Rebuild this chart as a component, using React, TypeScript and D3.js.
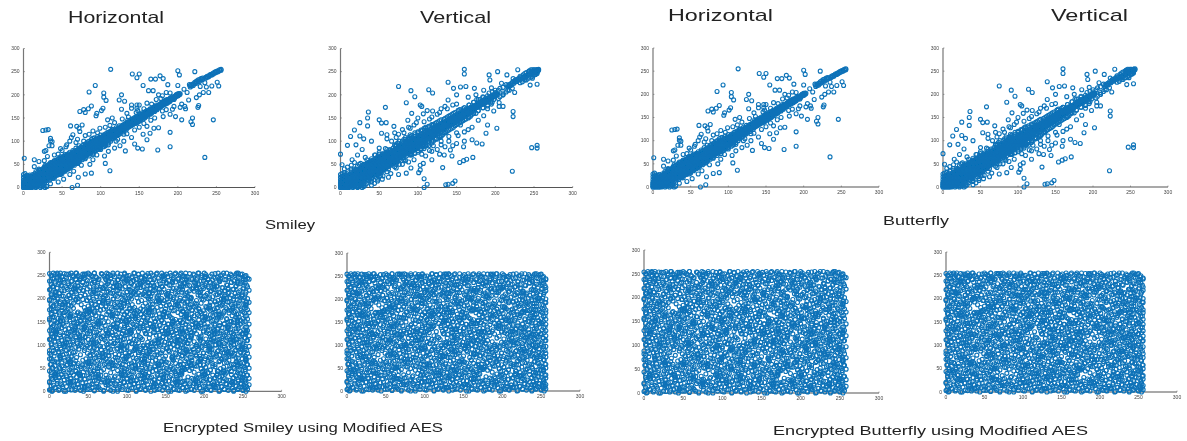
import React from "react";
import * as d3 from "d3";

// Each row: x value followed by the y values read at that x.
const bandColumns: number[][] = [
  [0,0,3,7,11,16,22,28],[2,1,5,9,13,18,24,30],[4,0,4,8,12,17,21,26],[6,2,6,10,14,19,25],[8,0,3,7,11,15,20,27],
  [10,1,5,9,13,17,22],[12,2,6,10,14,18,24],[14,4,8,12,16,20,26],[16,3,8,13,17,21,25],[18,6,10,14,19,23,28],
  [20,7,12,16,20,25,30,38],[22,9,14,18,22,27,33],[24,8,12,17,22,26,31,37],[26,13,18,22,27,32,38],[28,12,17,21,26,31,36,44],
  [30,15,20,25,30,35,40,47],[32,18,23,28,33,38,44],[34,16,22,27,32,37,42,50],[36,20,25,30,35,40,46,53],[38,22,27,32,37,42,48],
  [40,20,26,31,36,41,46,52,58],[42,26,31,36,41,46,51,57],[44,27,32,37,42,47,53,60],[46,30,35,40,45,50,55,62],[48,28,34,39,44,49,54,60,66],
  [50,33,38,43,48,53,58,64],[52,36,41,46,51,56,61,68],[54,35,40,45,50,55,60,66,71],[56,39,44,49,54,59,64,70],[58,42,47,52,57,62,67,73],
  [60,44,49,54,59,64,69,76],[62,46,51,56,61,66,71],[64,49,54,59,64,69,74,80],[66,52,57,62,67,72,78],[68,54,59,64,69,74,80,85],
  [70,57,62,67,72,77,82],[72,58,63,68,73,78,84,90],[74,62,67,72,77,82,87],[76,64,69,74,79,84,90],[78,66,71,76,81,86,92],
  [80,69,74,79,84,89,94],[82,71,76,81,86,91,96],[84,74,79,84,89,94,99],[86,76,81,86,91,96,100],[88,79,84,89,94,99,104],
  [90,80,85,90,95,100,106],[92,84,88,92,97,102,107],[94,86,90,94,99,104],[96,88,92,96,100,105,110],[98,90,94,98,102,107],
  [100,92,96,100,104,108,113],[102,94,98,102,106,110],[104,97,101,105,109,114],[106,100,103,107,111,115],[108,102,105,109,113,118],
  [110,104,107,111,115,119],[112,106,109,113,117,121],[114,109,112,115,119,123],[116,111,114,117,121,125],[118,113,116,119,123],
  [120,114,118,121,125,129],[122,117,120,123,127],[124,120,123,126,129,133],[126,121,125,128,131],[128,124,127,130,134],
  [130,126,129,132,136],[132,128,131,134,138],[134,130,133,136,140],[136,133,136,139,142],[138,134,138,141,145],
  [140,136,140,143,147],[142,139,142,145,149],[144,140,144,147,151],[146,143,146,149,152],[148,145,148,151,155],
  [150,147,150,153,157],[152,149,152,155,158],[154,150,154,157,161],[156,153,156,159],[158,154,158,161,164],
  [160,156,160,163,166],[162,159,162,165],[164,160,164,167,170],[166,163,166,169],[168,164,168,171,173],
  [170,167,170,173],[172,169,172,175],[174,171,174,177],[176,173,176,179],[178,175,178,181],
  [180,178,181,184],[182,179,183,186],[184,182,185,188],[186,183,187,190],[188,186,189],
  [190,187,190,193],[193,191,194],[196,193,197],[198,197,200],[200,198,201],[202,200,203],
  [216,217,220],[218,219,222],[220,220,224],[222,224,227],[224,225,229],[226,228,232],[228,229,233],[230,232,235],[232,233,236],
  [236,236,238],[238,238,240],[240,239,241],[242,242,244],[244,243,245],[246,245,247],[248,247,249],[250,249,251],[252,250,252],[254,252,254],[256,253,255],
];

const horizontalOutliers: number[][] = [
  [113,255],[141,245],[150,245],[147,237],[165,234],[171,234],[177,241],[181,235],[187,222],[200,252],[202,243],[222,250],
  [155,220],[162,209],[168,209],[200,220],[185,205],[175,200],[195,190],[1,63],[25,123],[29,124],[32,125],[35,106],[35,101],[37,99],[33,90],[37,90],
  [27,78],[29,80],[31,67],[14,45],[14,60],[20,56],[27,58],[61,133],[69,132],[76,135],[72,128],[73,121],[64,114],[73,164],[80,162],
  [78,168],[84,170],[88,176],[85,206],[93,220],[104,204],[104,195],[107,188],[103,171],[101,166],[95,160],[94,155],[109,146],[115,150],
  [99,128],[106,130],[127,200],[124,189],[131,186],[127,169],[134,160],[140,178],[147,178],[150,178],[140,171],[147,171],[246,146],[235,65],
  [190,119],[190,88],[174,81],[154,83],[144,94],[148,85],[112,36],[106,52],[132,79],[80,29],[88,31],[63,0],[70,5],[71,22],[52,18],[219,150],
  [217,142],[219,136],[226,173],[227,177],[205,146],[197,153],[190,158],[181,153],[209,175],[203,173],[193,169],[214,189],[224,194],[228,200],
  [233,205],[240,205],[244,219],[253,219],[251,227],[237,217],[160,103],[164,117],[169,128],[175,129],[160,132],[155,115],[140,108],[130,100],
  [125,90],[118,85],[110,78],[105,68],[95,70],[86,50],[90,60],[75,48],[65,35],[60,28],[55,40],[45,12],[35,8],[30,2],[78,100],[85,115],[50,80],[55,88],
  [45,72],[40,70],[60,100],[68,97],[172,190],[180,198],[190,204],[150,130],[165,145],[180,165],[195,175],[205,180],[210,170],[130,115],[120,100],
  [56,92],[62,108],[48,84],[70,104],[80,112],[90,122],[96,118],[112,134],[118,140],[128,148],[136,152],[146,162],[156,170],[166,180],[178,192],
  [110,92],[122,104],[134,116],[144,124],[156,138],[170,150],[185,168],[100,82],[90,72],[80,62],[70,52],[60,42],[50,30],[40,24],
  [172,178],[160,182],[148,166],[135,145],[115,125],[215,222],[208,212],[212,205],[235,226],[229,218],
];

const verticalOutliers: number[][] = [
  [160,255],[160,245],[75,218],[91,209],[96,196],[85,183],[58,173],[36,163],[35,150],[50,146],[25,140],[35,133],[18,124],[25,111],[13,110],[9,91],[0,72],[2,49],
  [139,227],[114,211],[119,204],[146,214],[155,217],[162,218],[150,200],[139,189],[173,214],[103,178],[105,175],[112,166],[119,165],[107,159],[92,160],[87,145],
  [88,130],[69,132],[59,140],[53,139],[53,117],[60,114],[192,243],[203,250],[193,232],[215,243],[229,254],[223,235],[208,225],[245,221],[254,223],[223,164],
  [223,153],[202,128],[188,117],[190,135],[183,94],[171,65],[163,61],[159,58],[154,54],[132,43],[148,14],[145,9],[139,7],[136,6],[112,7],[108,0],[108,19],
  [103,38],[101,32],[91,42],[85,31],[107,52],[103,48],[222,35],[247,86],[254,91],[254,85],[170,103],[176,96],[159,88],[142,81],[144,68],[134,70],
  [30,105],[20,92],[40,100],[28,82],[22,70],[15,60],[32,65],[44,70],[50,85],[60,105],[75,115],[80,125],[70,118],[95,135],[100,150],[115,148],[125,158],[130,170],
  [135,175],[150,180],[165,195],[175,200],[185,210],[195,215],[200,205],[210,200],[218,210],[225,205],[235,228],[240,240],[246,250],[250,248],[180,190],
  [195,180],[205,183],[210,175],[190,170],[175,160],[165,150],[155,135],[170,130],[160,120],[150,118],[140,110],[130,100],[120,90],[125,82],[115,80],[110,68],
  [105,72],[95,60],[88,55],[80,50],[72,42],[65,30],[55,25],[48,18],[40,12],[28,5],[62,22],[75,28],[160,100],[150,95],[145,90],[135,88],[128,72],[118,60],
  [66,100],[72,108],[82,118],[90,128],[98,140],[108,142],[118,152],[128,162],[138,170],[145,178],[120,128],[135,135],[118,78],[130,92],[140,100],[152,112],
  [165,125],[178,145],[185,155],[198,165],[205,175],[245,244],[238,236],[244,252],[250,254],[254,250],[252,244],[248,236],
];

// Extra points that make the vertical band wider than the horizontal one.
const verticalBandExtra: number[][] = [
  [30,8,50],[40,14,62],[50,24,72],[60,34,82],[70,45,92],[76,50,100],[84,58,108],[90,70,114],[96,74,118],[104,84,124],[110,90,130],[118,100,136],
  [124,106,140],[130,112,146],[136,120,150],[142,126,156],[148,134,162],[154,140,168],[160,146,172],[166,152,178],[172,160,184],[178,166,190],[184,172,194],
  [190,176,198],[196,184,206],[204,192,210],[210,200,216],[214,206,222],[232,226,240],[238,232,246],[243,236,250],[248,240,254],[251,244,254],[254,246,254],
  [74,56,96],[82,64,104],[92,72,112],[100,80,120],[108,88,128],[114,96,132],[122,104,138],[128,110,144],[134,118,148],[152,138,166],[158,144,170],
  [5,32,40],[9,34,44],[14,36,48],[18,40,54],[22,2,46],[26,6,52],
];

// Each row: x value followed by the y values read at that x.
const encryptedColumns: number[][] = [
  [0,3,21,44,70,88,112,131,157,176,198,219,238,254],[2,12,33,58,79,102,124,146,168,187,209,231,250],[4,1,25,49,66,94,117,139,161,183,204,226,243],[7,8,38,55,83,108,128,152,172,194,215,236,252],
  [10,17,42,63,91,115,134,149,178,201,222,245,255],[13,5,29,52,76,99,122,143,165,190,212,233,251],[16,14,36,61,86,110,137,159,181,206,228,248],[19,0,24,47,72,96,119,141,170,193,217,240,254],
  [22,10,31,56,81,105,126,150,175,199,224,244],[25,19,40,68,92,113,135,163,186,207,229,253],[28,3,27,50,74,100,121,147,169,191,213,237],[31,12,35,59,84,109,132,155,179,203,220,247],
  [34,6,22,45,66,95,118,140,164,197,216,241,255],[37,15,39,60,98,124,148,171,200,227,250],[40,2,28,53,101,129,153,167,205,223,243],[43,18,34,57,107,120,144,162,198,218,235,253],
  [46,9,26,48,93,116,138,160,172,208,230,246],[49,13,41,62,97,125,151,174,196,221,239],[52,4,30,54,78,103,130,156,178,202,225,252],[55,16,37,64,88,111,136,166,188,211,233,248],
  [58,1,23,46,71,94,119,142,173,195,214,238,255],[61,11,32,58,82,106,127,154,180,204,226,245],[64,7,27,51,75,99,123,145,169,192,219,242],[67,20,43,65,89,114,137,160,184,209,232,254],
  [70,2,24,47,73,96,120,148,177,201,222,249],[73,14,35,60,85,108,133,158,182,206,229,241],[76,6,29,53,77,102,126,150,171,194,216,236,253],[79,17,40,63,90,115,139,164,189,212,244],
  [82,0,25,49,68,98,121,143,175,199,224,251],[85,12,33,56,80,104,130,155,183,207,234],[88,5,22,45,72,93,117,146,168,192,218,240,255],[91,15,38,61,87,110,135,161,186,210,228,247],
  [94,9,28,52,76,100,124,152,173,197,221,243],[97,19,42,66,91,113,138,165,190,205,235,253],[100,3,26,48,74,97,122,144,170,193,215,238],[103,13,36,59,83,107,131,156,179,202,226,250],
  [106,7,30,54,79,103,127,149,174,208,232,245],[109,16,41,64,88,112,136,162,176,214,239,255],[112,1,23,50,71,95,120,142,168,209,220,242],[115,11,34,57,84,105,129,155,172,212,230,252],
  [118,6,27,46,69,92,116,147,166,178,224,246],[121,18,39,62,86,98,138,160,175,210,237],[124,4,24,52,77,94,125,151,169,206,217,249],[127,14,32,58,81,99,134,158,183,203,228,254],
  [130,8,29,48,73,96,123,146,177,199,222,241],[133,20,43,65,90,105,140,164,188,212,234,251],[136,2,25,53,78,102,127,150,171,195,218,244],[139,12,37,60,85,110,133,157,181,205,230,255],
  [142,5,28,47,72,97,121,143,167,192,214,238],[145,17,35,57,83,108,130,153,176,200,226,247],[148,9,31,51,66,100,124,148,172,196,220,243],[151,15,40,63,92,114,137,161,185,209,233,253],
  [154,0,22,46,88,103,126,145,169,193,216,239],[157,11,34,55,95,111,135,159,180,204,229,250],[160,6,26,49,68,101,122,142,174,198,222,245],[163,19,38,60,82,107,131,155,187,211,236,255],
  [166,3,27,44,74,97,118,147,170,191,215,242],[169,13,36,58,86,109,128,152,177,201,225,252],[172,8,21,52,77,100,125,149,173,195,219,240],[175,16,47,66,90,113,136,162,184,208,232,248],
  [178,2,24,55,80,104,127,150,171,193,213,237],[181,12,45,62,87,110,133,158,179,203,228,254],[184,5,28,50,73,96,121,144,167,189,221,244],[187,17,41,59,84,107,130,155,182,216,235,251],
  [190,9,31,54,76,101,124,147,175,188,224,241],[193,14,37,64,91,115,138,163,178,214,230,255],[196,0,23,48,70,97,119,143,168,190,218,246],[199,11,34,57,83,106,128,152,174,197,222,238],
  [202,6,27,51,75,99,113,139,160,183,207,233,252],[205,18,40,65,88,105,131,156,179,200,226,243],[208,3,25,46,71,94,118,141,165,192,215,249],[211,13,35,60,82,108,129,153,176,204,231,240],
  [214,8,29,53,74,100,123,145,171,195,219,254],[217,16,38,44,86,111,134,158,181,209,227,246],[220,1,23,66,78,103,126,142,167,190,212,237],[223,10,33,69,91,114,137,164,186,206,224,251],
  [226,5,27,72,83,98,121,146,173,198,216,241],[229,15,41,62,87,109,130,155,178,201,230,255],[232,7,24,48,75,94,118,143,169,192,213,244],[235,19,36,58,81,105,127,151,175,208,235,250],
  [238,2,29,52,77,101,124,148,170,196,220,239],[241,12,34,63,89,112,135,160,184,205,228,253],[244,6,25,45,72,96,119,141,167,191,214,246],[247,16,39,60,84,107,129,153,178,202,232,252],
  [250,3,30,54,79,100,125,149,172,197,221,240],[253,10,22,47,68,92,115,138,162,186,210,234,249],[256,5,35,58,82,110,131,156,176,200,225,244],[258,14,28,50,74,97,120,145,170,192,218,242],
];

// Denser clumps seen inside the encrypted panels.
const encryptedClumps: number[][] = [
  [8,30,33,37,40,125,128,131,210,213],[14,70,73,77,150,153,156,238,241],[20,100,103,107,186,189,192],[27,15,18,21,60,63,66,160,163],[33,130,133,136,222,225,228],
  [39,34,37,40,112,115,118,240,243],[45,5,8,11,135,138,141,250,253],[51,60,63,66,170,173,176],[57,100,103,106,215,218,221],[63,30,33,36,145,148,151],
  [69,75,78,81,190,193,196],[75,18,21,24,120,123,126,245,248],[81,55,58,61,160,163,166],[87,135,138,141,225,228,231],[93,35,38,41,95,98,101,180,183],
  [99,70,73,76,150,153,156,240,243],[105,20,23,26,125,128,131,215,218],[111,50,53,56,90,93,96,160,163],[117,135,138,141,230,233,236],[123,30,33,36,65,68,71,240,243],
  [129,85,88,91,170,173,176,210,213],[135,10,13,16,135,138,141,225,228],[141,55,58,61,105,108,111,195,198],[147,25,28,31,160,163,166,248,251],[153,125,128,131,205,208,211],
  [159,70,73,76,145,148,151,235,238],[165,15,18,21,105,108,111,185,188],[171,40,43,46,130,133,136,225,228],[177,85,88,91,160,163,166,240,243],[183,55,58,61,115,118,121,200,203],
  [189,20,23,26,140,143,146,230,233],[195,65,68,71,110,113,116,205,208],[201,35,38,41,155,158,161,245,248],[207,90,93,96,180,183,186],[213,10,13,16,125,128,131,225,228],
  [219,100,103,106,160,163,166,240,243],[225,40,43,46,195,198,201],[231,80,83,86,135,138,141,220,223],[237,15,18,21,110,113,116,180,183],[243,55,58,61,150,153,156,235,238],
  [249,25,28,31,90,93,96,205,208],[254,65,68,71,125,128,131,185,188,250],
];

const tickValues = [0, 50, 100, 150, 200, 250, 300];
const titles = [
  { text: "Horizontal", x: 68, y: 23, w: 96, size: 16.5 },
  { text: "Vertical", x: 420, y: 23, w: 71, size: 16.5 },
  { text: "Horizontal", x: 668, y: 21, w: 105, size: 17 },
  { text: "Vertical", x: 1051, y: 21, w: 77, size: 17 },
  { text: "Smiley", x: 265, y: 229, w: 50, size: 13 },
  { text: "Butterfly", x: 883, y: 225, w: 66, size: 13.5 },
  { text: "Encrypted Smiley using Modified AES", x: 163, y: 432, w: 280, size: 12.5 },
  { text: "Encrypted Butterfly using Modified AES", x: 773, y: 435, w: 315, size: 13 },
];

type Pt = [number, number];
const expand = (cols: number[][]): Pt[] =>
  cols.flatMap(([x, ...ys]) => ys.map((y) => [x, y] as Pt));
const mirror = (pts: Pt[]): Pt[] => pts.map(([a, b]) => [b, a] as Pt);

const band = expand(bandColumns);
const mirroredBand = mirror(band.filter(([a]) => a < 205));
const horizontalPoints: Pt[] = [...band, ...mirroredBand, ...(horizontalOutliers as Pt[])];
const verticalExtra = expand(verticalBandExtra);
const verticalPoints: Pt[] = [...band, ...mirroredBand, ...verticalExtra, ...mirror(verticalExtra), ...(verticalOutliers as Pt[])];

const encryptedRead = expand(encryptedColumns);
const encryptedFlipped = mirror(encryptedRead).map(([a, b]) => [a, Math.min(b, 255)] as Pt);
const clumps = expand(encryptedClumps);
const encryptedHorizontal: Pt[] = [...encryptedRead, ...encryptedFlipped, ...clumps];
const encryptedVertical: Pt[] = [...encryptedRead, ...encryptedFlipped, ...mirror(clumps)].map(([a, b]) => [Math.min(a, 256), b] as Pt);

const panels = [
  { x0: 23.5, x1: 255, y0: 187.5, y1: 48.5, pts: horizontalPoints },
  { x0: 340.5, x1: 572.7, y0: 187.5, y1: 48.5, pts: verticalPoints },
  { x0: 653, x1: 879, y0: 187, y1: 48, pts: horizontalPoints },
  { x0: 943, x1: 1168, y0: 187, y1: 48, pts: verticalPoints },
  { x0: 49.5, x1: 281.6, y0: 391.3, y1: 252.3, pts: encryptedHorizontal },
  { x0: 347, x1: 580, y0: 391, y1: 253, pts: encryptedVertical },
  { x0: 644, x1: 879, y0: 393, y1: 250, pts: encryptedHorizontal },
  { x0: 946, x1: 1177, y0: 392, y1: 252, pts: encryptedVertical },
];

function Panel({ p }: { p: (typeof panels)[number] }) {
  const x = d3.scaleLinear().domain([0, 300]).range([p.x0, p.x1]);
  const y = d3.scaleLinear().domain([0, 300]).range([p.y0, p.y1]);
  return (
    <g>
      <line x1={p.x0} x2={p.x0} y1={p.y0} y2={p.y1} stroke="#777" strokeWidth={1.2} />
      <line x1={p.x0} x2={p.x1} y1={p.y0} y2={p.y0} stroke="#555" strokeWidth={1} />
      {tickValues.map((t) => (
        <g key={t} fontFamily="Liberation Sans" fontSize={5} fill="#444">
          <line x1={x(t)} x2={x(t)} y1={p.y0} y2={p.y0 - 1.5} stroke="#555" strokeWidth={0.5} />
          <line x1={p.x0} x2={p.x0 + 1.5} y1={y(t)} y2={y(t)} stroke="#555" strokeWidth={0.5} />
          <text x={x(t)} y={p.y0 + 7} textAnchor="middle">{t}</text>
          <text x={p.x0 - 4} y={y(t) + 1.7} textAnchor="end">{t}</text>
        </g>
      ))}
      {p.pts.map(([a, b], i) => (
        <circle key={i} cx={x(a)} cy={y(b)} r={2} fill="none" stroke="#0a72b8" strokeWidth={1.1} />
      ))}
    </g>
  );
}

export default function App() {
  return (
    <svg width={1187} height={441} style={{ position: "absolute", left: 0, top: 0, background: "#fff" }}>
      <defs>
        <filter id="soft" x="0" y="0" width="100%" height="100%">
          <feGaussianBlur stdDeviation={0.35} />
        </filter>
      </defs>
      <g filter="url(#soft)">
        {panels.map((p, i) => <Panel key={i} p={p} />)}
        {titles.map((t, i) => (
          <text key={i} x={t.x} y={t.y} textLength={t.w} lengthAdjust="spacingAndGlyphs" fontFamily="Liberation Sans" fontSize={t.size} fill="#222">{t.text}</text>
        ))}
      </g>
    </svg>
  );
}
